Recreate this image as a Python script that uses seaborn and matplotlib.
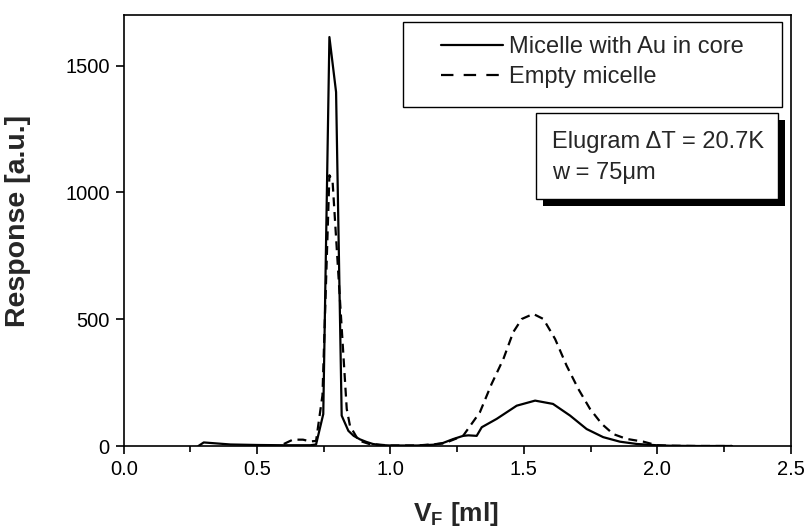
import matplotlib
matplotlib.use("Agg")
import matplotlib.pyplot as plt
from matplotlib.patches import Rectangle
from matplotlib.ticker import MultipleLocator
import seaborn as sns
import pandas as pd

# Elution volume (ml) and detector response for the two samples
au_core_x = [0.28, 0.30, 0.40, 0.50, 0.60, 0.70, 0.721, 0.748, 0.771, 0.796, 0.817,
             0.842, 0.862, 0.886, 0.91, 0.934, 0.96, 1.00, 1.10, 1.16, 1.197, 1.234,
             1.272, 1.292, 1.323, 1.342, 1.398, 1.473, 1.542, 1.609, 1.673, 1.735,
             1.797, 1.860, 1.923, 1.998, 2.05, 2.15, 2.28]
au_core_y = [0, 14, 6, 4, 3, 3, 6, 126, 1613, 1396, 120, 60, 40, 26, 16, 8, 4, 2, 2,
             5, 12, 27, 40, 42, 40, 74, 107, 159, 179, 166, 120, 67, 35, 17, 8, 3,
             1, 0, 0]

empty_x = [0.60, 0.634, 0.672, 0.70, 0.721, 0.745, 0.771, 0.783, 0.836, 0.848,
           0.88, 0.92, 1.00, 1.10, 1.20, 1.272, 1.335, 1.379, 1.423, 1.460, 1.492,
           1.535, 1.573, 1.617, 1.660, 1.704, 1.748, 1.792, 1.835, 1.885, 1.948,
           1.998, 2.05, 2.15, 2.28]
empty_y = [8, 25, 25, 18, 20, 200, 1068, 1042, 146, 80, 22, 8, 2, 2, 10, 40, 133,
           245, 343, 449, 501, 521, 501, 422, 317, 225, 146, 87, 47, 28, 17, 3, 1,
           0, 0]

series_labels = ["Micelle with Au in core", "Empty micelle"]
info_lines = ["Elugram \u0394T = 20.7K", "w = 75\u03bcm"]
x_ticks = [0.0, 0.5, 1.0, 1.5, 2.0, 2.5]
y_ticks = [0, 500, 1000, 1500]

sns.set_style("ticks")
plt.rcParams["font.family"] = ["Liberation Sans", "DejaVu Sans"]
plt.rcParams["mathtext.fontset"] = "custom"
plt.rcParams["mathtext.rm"] = "Liberation Sans"
plt.rcParams["mathtext.bf"] = "Liberation Sans:bold"

W, H = 808, 531
fig = plt.figure(figsize=(W / 100, H / 100), dpi=100)
ax_l, ax_r, ax_t, ax_b = 123.7, 790.7, 15, 446
ax = fig.add_axes([ax_l / W, 1 - ax_b / H, (ax_r - ax_l) / W, (ax_b - ax_t) / H])

df_au = pd.DataFrame({"V": au_core_x, "R": au_core_y})
df_empty = pd.DataFrame({"V": empty_x, "R": empty_y})

sns.lineplot(data=df_au, x="V", y="R", ax=ax, color="black", lw=1.6,
             label=series_labels[0], zorder=3)
sns.lineplot(data=df_empty, x="V", y="R", ax=ax, color="black", lw=1.6,
             linestyle=(0, (4, 2.6)), label=series_labels[1], zorder=3)

ax.set_xlim(0, 2.5)
ax.set_ylim(0, 1700)
ax.set_xticks(x_ticks)
ax.set_xticklabels([f"{v:.1f}" for v in x_ticks])
ax.set_yticks(y_ticks)
ax.xaxis.set_minor_locator(MultipleLocator(0.25))
ax.tick_params(axis="both", which="major", direction="out", length=6, width=1.2,
               labelsize=14.5, color="black", labelcolor="black", pad=4)
ax.tick_params(axis="x", which="minor", direction="out", length=4, width=1.2,
               color="black")
for s in ax.spines.values():
    s.set_visible(True)
    s.set_linewidth(1.2)
    s.set_color("black")

ax.set_xlabel(r"$\mathbf{V_F}$ [ml]", fontsize=19, fontweight="bold")
ax.set_ylabel("Response [a.u.]", fontsize=20.5, fontweight="bold")
# label anchors: top edge of the x label, right edge of the rotated y label
ax.xaxis.set_label_coords((456 - ax_l) / (ax_r - ax_l), -(500 - ax_b) / (ax_b - ax_t))
ax.yaxis.set_label_coords(-(ax_l - 31) / (ax_r - ax_l), (ax_b - 221) / (ax_b - ax_t))


def to_axes(px, py):
    return (px - ax_l) / (ax_r - ax_l), (ax_b - py) / (ax_b - ax_t)


# Legend frame
lx0, ly0 = to_axes(403.3, 106.7)
lx1, ly1 = to_axes(781.7, 21.7)
ax.add_patch(Rectangle((lx0, ly0), lx1 - lx0, ly1 - ly0, transform=ax.transAxes,
                       facecolor="white", edgecolor="black", lw=1.0, zorder=4))
leg = ax.legend(loc="center", bbox_to_anchor=((lx0 + lx1) / 2, (ly0 + ly1) / 2 + 0.005),
                frameon=False, fontsize=17, handlelength=2.65, handletextpad=0.25,
                labelspacing=0.35, borderaxespad=0)
leg.set_zorder(5)
for line in leg.get_lines():
    line.set_linewidth(1.6)
leg.get_lines()[1].set_linestyle((0, (5.6, 4.6)))

# Annotation box with drop shadow
bx0, by0 = to_axes(536, 199.3)
bx1, by1 = to_axes(777.7, 113.3)
dx, dy = 7 / (ax_r - ax_l), 7 / (ax_b - ax_t)
ax.add_patch(Rectangle((bx0 + dx, by0 - dy), bx1 - bx0, by1 - by0,
                       transform=ax.transAxes, facecolor="black", edgecolor="black",
                       lw=0, zorder=4))
ax.add_patch(Rectangle((bx0, by0), bx1 - bx0, by1 - by0, transform=ax.transAxes,
                       facecolor="white", edgecolor="black", lw=1.0, zorder=5))
tx, ty = to_axes(551.7, 141.7)
ax.text(tx, ty, info_lines[0], transform=ax.transAxes, fontsize=17, va="center",
        ha="left", zorder=6)
tx, ty = to_axes(551.7, 173.3)
ax.text(tx, ty, info_lines[1], transform=ax.transAxes, fontsize=17, va="center",
        ha="left", zorder=6)

fig.savefig("out.png", dpi=100)
